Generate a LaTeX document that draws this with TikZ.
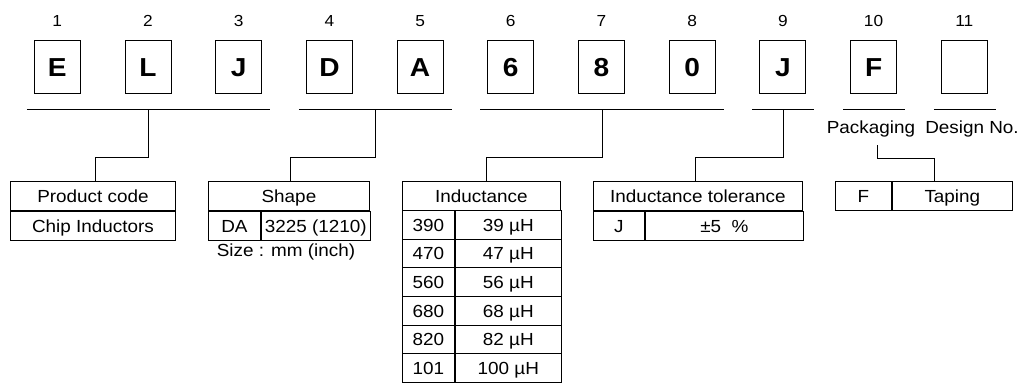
\documentclass[tikz,border=0pt]{standalone}
\usepackage{fontspec}
\setmainfont[FakeStretch=1.08]{Liberation Sans}
\usetikzlibrary{calc}
\begin{document}
\begin{tikzpicture}[x=1pt, y=-1pt,
  charbox/.style={draw, line width=1pt, minimum width=46pt, minimum height=53pt, inner sep=0pt, text height=18.6pt, text depth=0pt, font=\fontsize{26}{26}\selectfont\bfseries},
  num/.style={inner sep=0pt, text height=11.5pt, text depth=0pt, font=\fontsize{16}{16}\selectfont},
  lbl/.style={inner sep=0pt, text height=12.5pt, text depth=0pt, font=\fontsize{17.5}{18}\selectfont},
  cell/.style={draw, line width=0.9pt, anchor=north west, minimum height=29pt, inner sep=0pt, text height=12.5pt, text depth=0pt, font=\fontsize{17.5}{18}\selectfont},
  bar/.style={line width=1pt},
  link/.style={line width=1pt}]
\useasboundingbox (0,0) rectangle (1018,383);
% code characters with their positions
\foreach \ch [count=\i] in {E,L,J,D,A,6,8,0,J,F,{}} {
  \node[charbox] (c\i) at ({57.3+90.7*(\i-1)},67.2) {\ch};
  \node[num] (n\i) at ({57.3+90.7*(\i-1)},20.5) {\i};
}
% group bars
\foreach \a/\b [count=\g] in {1/3,4/5,6/8,9/9,10/10,11/11} {
  \coordinate (bl\g) at ([shift={(-7,15)}]c\a.south west);
  \coordinate (br\g) at ([shift={(8,15)}]c\b.south east);
  \draw[bar] (bl\g) -- (br\g);
}
\node[lbl] (pklab) at (871,127) {Packaging};
\node[lbl] (dnlab) at (972,127) {Design No.};
% product code
\node[cell, minimum width=165pt] (pc) at (10,181) {Product code};
\node[cell, minimum width=165pt] (pcv) at (pc.south west) {Chip Inductors};
% shape
\node[cell, minimum width=161pt] (sh) at (208,181) {Shape};
\node[cell, minimum width=52pt] (shk) at (sh.south west) {DA};
\node[cell, minimum width=109pt] (shv) at (shk.north east) {3225 (1210)};
\node[lbl] (sz) at (286,250) {Size : mm (inch)};
% inductance
\node[cell, minimum width=158pt] (ind) at (402,181) {Inductance};
\foreach \k/\v [count=\r] in {390/39,470/47,560/56,680/68,820/82,101/100} {
  \node[cell, minimum width=52pt, minimum height=28.67pt] (ik\r) at (402,{210+28.67*(\r-1)}) {\k};
  \node[cell, minimum width=106pt, minimum height=28.67pt] (iv\r) at (ik\r.north east) {\v\ µH};
}
% tolerance
\node[cell, minimum width=209pt] (tol) at (593,181) {Inductance tolerance};
\node[cell, minimum width=51pt] (tolk) at (tol.south west) {J};
\node[cell, minimum width=158pt] (tolv) at (tolk.north east) {±5\ \ \%};
% packaging
\node[cell, minimum width=56pt] (pk) at (835,181) {F};
\node[cell, minimum width=120pt] (pkv) at (pk.north east) {Taping};
% connectors
\draw[link] ($(bl1)!.5!(br1)$) -- ++(0,48) -| ([shift={(3,0)}]pc.north);
\draw[link] ($(bl2)!.5!(br2)$) -- ++(0,48) -| ([shift={(2,0)}]sh.north);
\draw[link] ($(bl3)!.5!(br3)$) -- ++(0,48) -| ([shift={(5,0)}]ind.north);
\draw[link] ($(bl4)!.5!(br4)$) -- ++(0,48) -| ([shift={(-2,0)}]tol.north);
\draw[link] ([shift={(6,12)}]pklab.south) -- ++(0,13) -| ([shift={(-18,0)}]pkv.north);
\end{tikzpicture}
\end{document}
